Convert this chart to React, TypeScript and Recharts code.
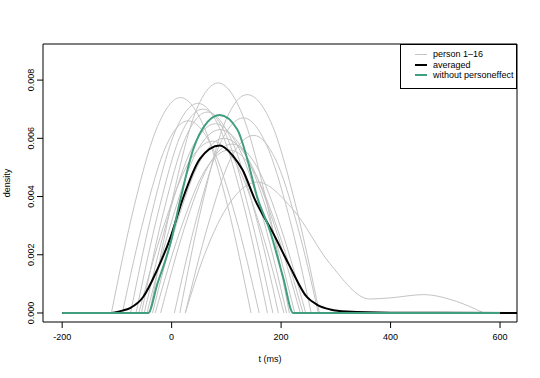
import { Line, LineChart, ReferenceArea, XAxis, YAxis } from "recharts";

const FONT = "'Liberation Sans', Arial, sans-serif";

const xTicks = [-200, 0, 200, 400, 600];
const yTicks = [0, 0.002, 0.004, 0.006, 0.008];
const xDomain: [number, number] = [-235, 631];
const yDomain: [number, number] = [-0.00031, 0.00924];

// person curves, [t, density]
const persons: number[][][] = [
  [[-110, 0], [-68, 0.0037], [-26, 0.0064], [16, 0.0074], [59, 0.0064], [102, 0.0037], [145, 0]],
  [[-40, 0], [2, 0.00395], [43, 0.00687], [85, 0.0079], [128, 0.00687], [172, 0.00395], [215, 0]],
  [[15, 0], [56, 0.00375], [97, 0.00653], [138, 0.0075], [182, 0.00653], [226, 0.00375], [270, 0]],
  [[-75, 0], [-34, 0.0036], [7, 0.00626], [48, 0.0072], [90, 0.00626], [133, 0.0036], [175, 0]],
  [[-65, 0], [-24, 0.0035], [16, 0.00609], [57, 0.007], [100, 0.00609], [142, 0.0035], [185, 0]],
  [[-55, 0], [-15, 0.00345], [25, 0.006], [65, 0.0069], [108, 0.006], [152, 0.00345], [195, 0]],
  [[5, 0], [47, 0.00335], [89, 0.00583], [131, 0.0067], [172, 0.00583], [214, 0.00335], [255, 0]],
  [[-45, 0], [0, 0.00315], [44, 0.00548], [89, 0.0063], [134, 0.00548], [180, 0.00315], [225, 0]],
  [[-35, 0], [8, 0.003], [52, 0.00522], [95, 0.006], [142, 0.00522], [188, 0.003], [235, 0]],
  [[25, 0], [67, 0.00305], [108, 0.00531], [150, 0.0061], [189, 0.00531], [229, 0.00305], [268, 0]],
  [[-60, 0], [-15, 0.00295], [30, 0.00513], [75, 0.0059], [118, 0.00513], [162, 0.00295], [205, 0]],
  [[-30, 0], [15, 0.0028], [60, 0.00487], [105, 0.0056], [150, 0.00487], [195, 0.0028], [240, 0]],
  [[-50, 0], [-7, 0.00325], [37, 0.00566], [80, 0.0065], [123, 0.00566], [167, 0.00325], [210, 0]],
  [[-20, 0], [23, 0.0029], [67, 0.00505], [110, 0.0058], [155, 0.00505], [200, 0.0029], [245, 0]],
  [[-90, 0], [-50, 0.0033], [-10, 0.00574], [30, 0.0066], [73, 0.00574], [117, 0.0033], [160, 0]],
  [[25, 0], [60, 0.002], [107, 0.0038], [156, 0.0045], [222, 0.00355], [289, 0.0017], [362, 0.00048],
    [400, 0.00052], [460, 0.00063], [520, 0.0004], [570, 0]],
];

const averagedT = [-200, -115, -90, -76, -52, -26, -2, 20, 52, 88, 112, 130, 152, 185, 216, 247, 266, 290, 320, 400, 640];
const averagedD = [0, 0, 0.00008, 0.00017, 0.00055, 0.0015, 0.0026, 0.0039, 0.0053, 0.00575, 0.0054, 0.0049,
  0.0039, 0.00276, 0.0016, 0.00055, 0.00028, 0.00012, 0.00005, 0.00001, 0];

const withoutT = [-200, -43, -26, -2, 16, 39, 65, 88, 120, 138, 156, 180, 204, 222, 600];
const withoutD = [0, 0, 0.001, 0.0024, 0.0039, 0.0056, 0.00655, 0.0068, 0.0063, 0.0053, 0.004, 0.0028, 0.0012, 0, 0];

const personData = persons.map((p) => p.map(([t, d]) => ({ t, d })));
const averagedData = averagedT.map((t, i) => ({ t, d: averagedD[i] }));
const withoutData = withoutT.map((t, i) => ({ t, d: withoutD[i] }));

const legendItems = [
  { label: "person 1\u201216", color: "#c4c4c4", width: 1 },
  { label: "averaged", color: "#000", width: 2 },
  { label: "without personeffect", color: "#3f9f7f", width: 2 },
];

const XTick = (props: any) => (
  <text x={props.x} y={props.y + 10} textAnchor="middle" fontSize={9} fontFamily={FONT} fill="#000">
    {props.payload.value}
  </text>
);

const YTick = (props: any) => (
  <text
    x={props.x - 1}
    y={props.y}
    transform={`rotate(-90, ${props.x - 1}, ${props.y})`}
    textAnchor="middle"
    fontSize={9}
    fontFamily={FONT}
    fill="#000"
  >
    {props.payload.value.toFixed(3)}
  </text>
);

const LegendBox = () => (
  <div
    style={{
      position: "absolute",
      left: 400,
      top: 44,
      width: 117,
      height: 45,
      border: "1px solid #000",
      background: "#fff",
      boxSizing: "border-box",
      paddingTop: 4,
    }}
  >
    {legendItems.map((it) => (
      <div key={it.label} style={{ display: "flex", alignItems: "center", height: 10.5 }}>
        <span style={{ display: "inline-block", width: 12, marginLeft: 14, marginRight: 6, borderTop: `${it.width}px solid ${it.color}` }} />
        <span style={{ fontFamily: FONT, fontSize: 9, color: "#000", lineHeight: "10px" }}>{it.label}</span>
      </div>
    ))}
  </div>
);

export default function App() {
  return (
    <div style={{ position: "absolute", left: 0, top: 0, width: 540, height: 378, background: "#fff" }}>
      <LineChart width={540} height={378} margin={{ top: 44, right: 23, bottom: 0, left: 0 }}>
        <XAxis
          type="number"
          dataKey="t"
          domain={xDomain}
          ticks={xTicks}
          interval={0}
          allowDataOverflow
          axisLine={false}
          tickSize={6}
          tickLine={{ stroke: "#000" }}
          height={56}
          tick={<XTick />}
          label={{
            content: () => (
              <text x={270} y={362} textAnchor="middle" fontSize={9} fontFamily={FONT} fill="#000">
                t (ms)
              </text>
            ),
          }}
        />
        <YAxis
          type="number"
          dataKey="d"
          domain={yDomain}
          ticks={yTicks}
          interval={0}
          allowDataOverflow
          axisLine={false}
          tickSize={6}
          tickLine={{ stroke: "#000" }}
          width={43}
          tick={<YTick />}
          label={{
            content: () => (
              <text x={10} y={183} transform="rotate(-90, 10, 183)" textAnchor="middle" fontSize={9} fontFamily={FONT} fill="#000">
                density
              </text>
            ),
          }}
        />
        {personData.map((p, i) => (
          <Line
            key={i}
            data={p}
            dataKey="d"
            type="monotone"
            stroke="#c4c4c4"
            strokeWidth={1}
            dot={false}
            activeDot={false}
            isAnimationActive={false}
          />
        ))}
        <Line data={averagedData} dataKey="d" type="monotone" stroke="#000" strokeWidth={2} dot={false} activeDot={false} isAnimationActive={false} />
        <Line data={withoutData} dataKey="d" type="monotone" stroke="#3f9f7f" strokeWidth={2} dot={false} activeDot={false} isAnimationActive={false} />
        <ReferenceArea x1={xDomain[0]} x2={xDomain[1]} y1={yDomain[0]} y2={yDomain[1]} fill="none" stroke="#000" strokeWidth={1} ifOverflow="visible" />
      </LineChart>
      <LegendBox />
    </div>
  );
}
